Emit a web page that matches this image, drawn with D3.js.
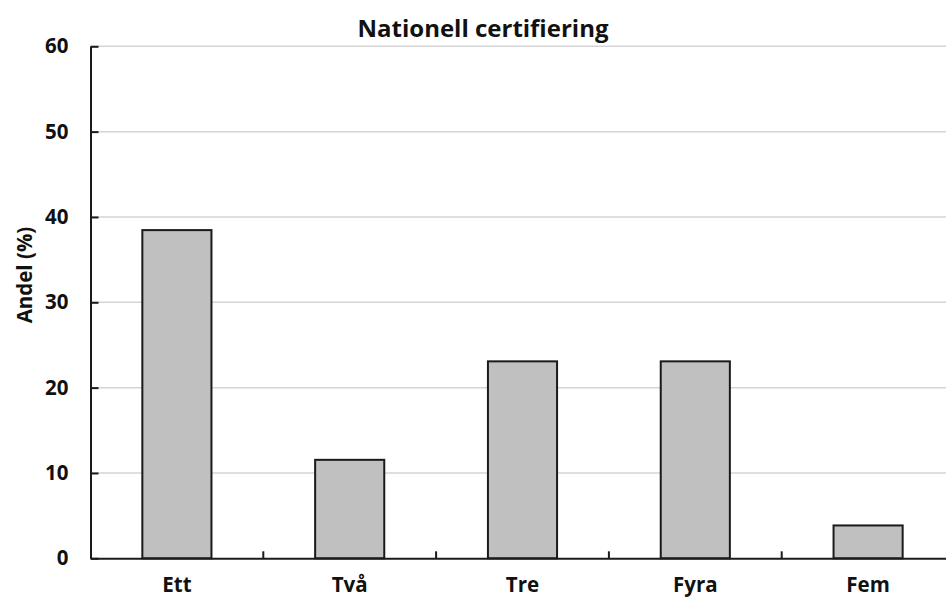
<!DOCTYPE html>
<html>
<head>
<meta charset="utf-8">
<script src="https://cdn.jsdelivr.net/npm/d3@7"></script>
<style>
  html, body { margin: 0; padding: 0; background: #fff; overflow: hidden; }
  svg { display: block; }
  text { font-family: "Open Sans", "Liberation Sans", sans-serif; font-weight: bold; fill: #111; }
</style>
</head>
<body>
<svg id="chart" width="946" height="599"></svg>
<script>
const categories = ["Ett", "Två", "Tre", "Fyra", "Fem"];
const values = [38.46, 11.54, 23.08, 23.08, 3.85];
const yTicks = [0, 10, 20, 30, 40, 50, 60];
const title = "Nationell certifiering";
const yLabel = "Andel (%)";

const svg = d3.select("#chart");
const mLeft = 90.5, mRight = 954.5, mTop = 46.3, mBottom = 558.3;

const x = d3.scaleBand().domain(categories).range([mLeft, mRight]).paddingInner(0).paddingOuter(0);
const y = d3.scaleLinear().domain([0, 60]).range([mBottom, mTop]);

// gridlines
svg.append("g").selectAll("line").data(yTicks.filter(d => d > 0)).join("line")
  .attr("x1", mLeft).attr("x2", mRight)
  .attr("y1", d => y(d)).attr("y2", d => y(d))
  .attr("stroke", "#d4d4d4").attr("stroke-width", 1.5);

// bars
const bw = x.bandwidth() * 0.4;
svg.append("g").selectAll("rect").data(values).join("rect")
  .attr("x", (d, i) => x(categories[i]) + (x.bandwidth() - bw) / 2)
  .attr("y", d => y(d))
  .attr("width", bw)
  .attr("height", d => y(0) - y(d))
  .attr("fill", "#c0c0c0")
  .attr("stroke", "#1a1a1a")
  .attr("stroke-width", 2);

// y axis
const yAxis = d3.axisLeft(y).tickValues(yTicks).tickSizeInner(-8).tickSizeOuter(0).tickPadding(22);
const gy = svg.append("g").attr("transform", `translate(${mLeft},0)`).call(yAxis);
gy.select(".domain").attr("stroke", "#1a1a1a").attr("stroke-width", 2);
gy.selectAll(".tick line").attr("stroke", "#1a1a1a").attr("stroke-width", 2);
gy.selectAll(".tick text").attr("font-size", 20.5).attr("font-family", null).attr("fill", "#111");

// x axis
const xAxis = d3.axisBottom(x).tickSize(0).tickPadding(19);
const gx = svg.append("g").attr("transform", `translate(0,${mBottom})`).call(xAxis);
gx.select(".domain").attr("stroke", "#1a1a1a").attr("stroke-width", 2);
gx.selectAll(".tick text").attr("font-size", 20.5).attr("font-family", null).attr("fill", "#111");
// category boundary ticks (inward)
svg.append("g").selectAll("line").data(categories.slice(1)).join("line")
  .attr("x1", d => x(d)).attr("x2", d => x(d))
  .attr("y1", mBottom).attr("y2", mBottom - 7)
  .attr("stroke", "#1a1a1a").attr("stroke-width", 2);

// title
svg.append("text").attr("x", 483).attr("y", 37).attr("text-anchor", "middle")
  .attr("font-size", 24).text(title);

// y label
svg.append("text").attr("transform", "translate(32,275) rotate(-90)")
  .attr("text-anchor", "middle").attr("font-size", 20.5).text(yLabel);
</script>
</body>
</html>
